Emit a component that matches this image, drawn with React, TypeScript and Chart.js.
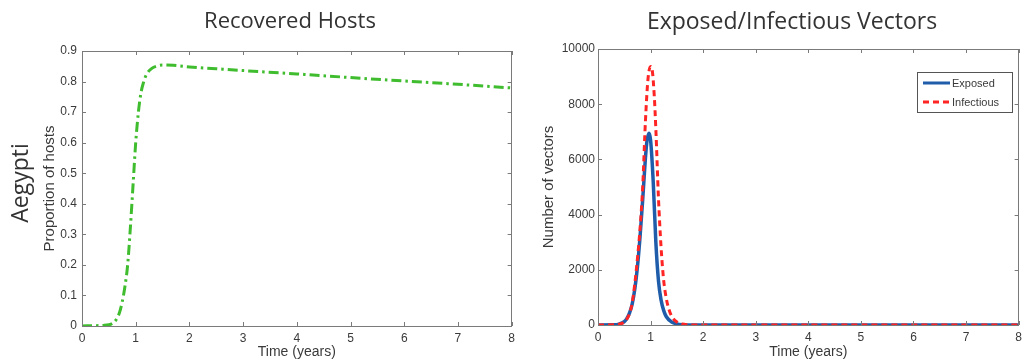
import React, { useEffect, useRef } from "react";
import { Chart, registerables } from "chart.js";

Chart.register(...registerables);

// ---------- data ----------
const recoveredX = [0, 0.2, 0.4, 0.5, 0.55, 0.6, 0.65, 0.7, 0.75, 0.8, 0.85, 0.9, 0.95, 1.0, 1.05, 1.1, 1.15, 1.2, 1.3, 1.4, 1.5, 1.7, 2.0, 2.5, 3, 4, 5, 6, 7, 8];
const recoveredY = [0, 0.001, 0.002, 0.004, 0.007, 0.013, 0.025, 0.045, 0.08, 0.13, 0.2, 0.32, 0.46, 0.6, 0.7, 0.765, 0.8, 0.823, 0.843, 0.851, 0.854, 0.853, 0.848, 0.842, 0.836, 0.825, 0.813, 0.802, 0.791, 0.779];

const exposedX = [0, 0.3, 0.4, 0.5, 0.55, 0.6, 0.65, 0.7, 0.75, 0.8, 0.85, 0.9, 0.93, 0.97, 1.0, 1.05, 1.1, 1.15, 1.2, 1.25, 1.3, 1.4, 1.5, 1.6, 1.8, 2, 3, 4, 5, 6, 7, 8];
const exposedY = [0, 5, 30, 120, 240, 440, 760, 1300, 2100, 3200, 4530, 6000, 6650, 6950, 6700, 5200, 3000, 1600, 900, 520, 300, 110, 40, 12, 0, 0, 0, 0, 0, 0, 0, 0];

const infectiousX = [0, 0.3, 0.4, 0.5, 0.55, 0.6, 0.65, 0.7, 0.75, 0.8, 0.85, 0.9, 0.95, 1.0, 1.03, 1.07, 1.1, 1.15, 1.2, 1.25, 1.3, 1.35, 1.4, 1.5, 1.6, 1.7, 1.9, 2, 3, 4, 5, 6, 7, 8];
const infectiousY = [0, 5, 30, 110, 220, 420, 800, 1500, 2400, 3500, 5000, 7300, 8900, 9370, 9250, 8300, 7100, 4600, 2800, 1600, 950, 560, 320, 110, 35, 10, 0, 0, 0, 0, 0, 0, 0, 0];

const leftTitle = "Recovered Hosts";
const rightTitle = "Exposed/Infectious Vectors";
const rowLabel = "Aegypti";
const xAxisTitle = "Time (years)";
const leftYTitle = "Proportion of hosts";
const rightYTitle = "Number of vectors";
const legendLabels = ["Exposed", "Infectious"];

const TICK_FONT = "'Liberation Sans', Arial, sans-serif";
const TITLE_FONT = "'Open Sans', sans-serif";
const TEXT_COLOR = "#3a3a3a";

const toPts = (xs: number[], ys: number[]) => xs.map((x, i) => ({ x, y: ys[i] }));

// ---------- plugins ----------
const boxTicksPlugin = {
  id: "boxTicks",
  afterDraw(chart: any) {
    const { ctx, chartArea: a, scales } = chart;
    ctx.save();
    ctx.strokeStyle = "#7a7a7a";
    ctx.lineWidth = 1;
    ctx.strokeRect(Math.round(a.left) + 0.5, Math.round(a.top) + 0.5, Math.round(a.right - a.left) - 1, Math.round(a.bottom - a.top));
    const L = 4;
    ctx.beginPath();
    scales.x.ticks.forEach((t: any) => {
      const px = Math.round(scales.x.getPixelForValue(t.value)) + 0.5;
      ctx.moveTo(px, a.bottom);
      ctx.lineTo(px, a.bottom - L);
      ctx.moveTo(px, a.top);
      ctx.lineTo(px, a.top + L);
    });
    scales.y.ticks.forEach((t: any) => {
      const py = Math.round(scales.y.getPixelForValue(t.value)) + 0.5;
      ctx.moveTo(a.left, py);
      ctx.lineTo(a.left + L, py);
      ctx.moveTo(a.right, py);
      ctx.lineTo(a.right - L, py);
    });
    ctx.stroke();
    ctx.restore();
  },
};

const headerPlugin = {
  id: "header",
  afterDraw(chart: any, _args: any, opts: any) {
    const { ctx } = chart;
    ctx.save();
    ctx.fillStyle = "#333";
    ctx.font = `${opts.size}px ${TITLE_FONT}`;
    ctx.textAlign = "center";
    ctx.textBaseline = "middle";
    ctx.fillText(opts.text, opts.x, opts.y);
    if (opts.side) {
      ctx.translate(opts.side.x, opts.side.y);
      ctx.rotate(-Math.PI / 2);
      ctx.font = `${opts.side.size}px ${TITLE_FONT}`;
      ctx.fillText(opts.side.text, 0, 0);
    }
    ctx.restore();
  },
};

const boxLegendPlugin = {
  id: "boxLegend",
  afterDraw(chart: any, _args: any, opts: any) {
    if (!opts || !opts.show) return;
    const { ctx } = chart;
    const { x, y, w, h } = opts;
    ctx.save();
    ctx.fillStyle = "#fff";
    ctx.fillRect(x, y, w, h);
    ctx.strokeStyle = "#555";
    ctx.lineWidth = 1;
    ctx.strokeRect(x + 0.5, y + 0.5, w, h);
    const ds = chart.data.datasets;
    const rows = [y + 11, y + 30];
    ds.forEach((d: any, i: number) => {
      ctx.beginPath();
      ctx.strokeStyle = d.borderColor;
      ctx.lineWidth = 3;
      ctx.setLineDash(d.borderDash || []);
      ctx.moveTo(x + 6, rows[i]);
      ctx.lineTo(x + 33, rows[i]);
      ctx.stroke();
      ctx.setLineDash([]);
      ctx.fillStyle = TEXT_COLOR;
      ctx.font = `11px ${TICK_FONT}`;
      ctx.textAlign = "left";
      ctx.textBaseline = "middle";
      ctx.fillText(d.label, x + 35, rows[i] + 0.5);
    });
    ctx.restore();
  },
};

function makeOptions(cfg: any) {
  return {
    responsive: false,
    animation: false,
    events: [],
    layout: { padding: cfg.padding },
    plugins: {
      legend: { display: false },
      tooltip: { enabled: false },
      title: { display: false },
      header: cfg.header,
      boxLegend: cfg.legend || { show: false },
    },
    scales: {
      x: {
        type: "linear",
        min: 0,
        max: 8,
        ticks: { stepSize: 1, color: TEXT_COLOR, font: { family: TICK_FONT, size: 12 }, padding: 5, maxRotation: 0, autoSkip: false },
        grid: { display: false, drawTicks: false },
        border: { display: false },
        title: { display: true, text: xAxisTitle, color: TEXT_COLOR, font: { family: TICK_FONT, size: 14 }, padding: { top: 0, bottom: 1 } },
        afterFit: (s: any) => { s.height = cfg.xHeight; },
      },
      y: {
        type: "linear",
        min: 0,
        max: cfg.yMax,
        ticks: {
          stepSize: cfg.yStep,
          color: TEXT_COLOR,
          font: { family: TICK_FONT, size: 12 },
          padding: cfg.yTickPad,
          autoSkip: false,
          callback: cfg.yFmt,
        },
        grid: { display: false, drawTicks: false },
        border: { display: false },
        title: { display: true, text: cfg.yTitle, color: TEXT_COLOR, font: { family: TICK_FONT, size: 15 }, padding: { top: cfg.yTitlePad, bottom: 0 } },
        afterFit: (s: any) => { s.width = cfg.yWidth; },
      },
    },
  };
}

export default function App() {
  const leftRef = useRef<HTMLCanvasElement>(null);
  const rightRef = useRef<HTMLCanvasElement>(null);

  useEffect(() => {
    const c1 = new Chart(leftRef.current as HTMLCanvasElement, {
      type: "line",
      data: {
        datasets: [
          {
            label: "Recovered",
            data: toPts(recoveredX, recoveredY),
            borderColor: "#3fbd2e",
            borderWidth: 3,
            borderDash: [10, 4, 2.5, 4],
            pointRadius: 0,
            cubicInterpolationMode: "monotone",
            fill: false,
          },
        ],
      },
      options: makeOptions({
        padding: { top: 51, left: 0, right: 7, bottom: 0 },
        xHeight: 36,
        yWidth: 82,
        yMax: 0.9,
        yStep: 0.1,
        yTickPad: 5,
        yTitle: leftYTitle,
        yTitlePad: 41,
        yFmt: (v: number) => String(Number(v.toFixed(1))),
        header: { text: leftTitle, x: 290, y: 22, size: 22, side: { text: rowLabel, x: 21, y: 183, size: 23 } },
      }) as any,
      plugins: [boxTicksPlugin, headerPlugin, boxLegendPlugin],
    });

    const c2 = new Chart(rightRef.current as HTMLCanvasElement, {
      type: "line",
      data: {
        datasets: [
          {
            label: legendLabels[0],
            data: toPts(exposedX, exposedY),
            borderColor: "#1f5dab",
            borderWidth: 3.5,
            pointRadius: 0,
            cubicInterpolationMode: "monotone",
            fill: false,
            order: 2,
          },
          {
            label: legendLabels[1],
            data: toPts(infectiousX, infectiousY),
            borderColor: "#ff2525",
            borderWidth: 3,
            borderDash: [6, 4],
            pointRadius: 0,
            cubicInterpolationMode: "monotone",
            fill: false,
            order: 1,
          },
        ],
      },
      options: makeOptions({
        padding: { top: 49, left: 0, right: 1, bottom: 0 },
        xHeight: 37,
        yWidth: 78,
        yMax: 10000,
        yStep: 2000,
        yTickPad: 3,
        yTitle: rightYTitle,
        yTitlePad: 20,
        yFmt: (v: number) => String(v),
        header: { text: rightTitle, x: 272, y: 22, size: 23 },
        legend: { show: true, x: 397, y: 72, w: 95, h: 40 },
      }) as any,
      plugins: [boxTicksPlugin, headerPlugin, boxLegendPlugin],
    });

    return () => {
      c1.destroy();
      c2.destroy();
    };
  }, []);

  return (
    <div style={{ position: "absolute", left: 0, top: 0, width: 1027, height: 362, background: "#fff", overflow: "hidden" }}>
      <canvas ref={leftRef} width={520} height={362} style={{ position: "absolute", left: 0, top: 0 }} />
      <canvas ref={rightRef} width={507} height={362} style={{ position: "absolute", left: 520, top: 0 }} />
    </div>
  );
}
